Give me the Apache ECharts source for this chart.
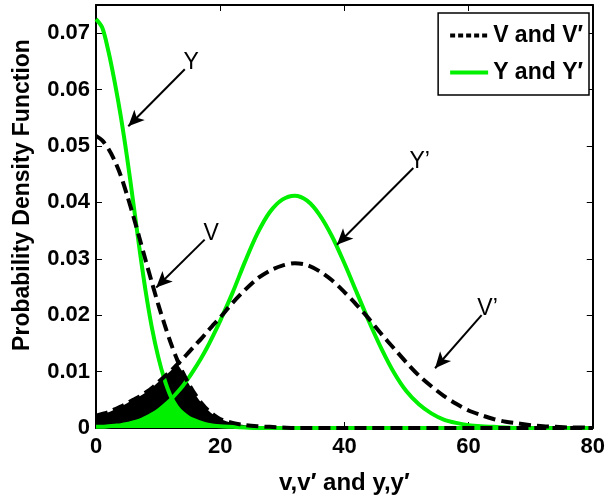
<!DOCTYPE html>
<html>
<head>
<meta charset="utf-8">
<script src="https://cdn.jsdelivr.net/npm/echarts@6/dist/echarts.min.js"></script>
<style>html,body{margin:0;padding:0;background:#fff}#c{width:608px;height:500px}</style>
</head>
<body>
<div id="c"></div>
<script>
// x positions (step 1 up to 20, then step 2)
const xs = [0,1,2,3,4,5,6,7,8,9,10,11,12,13,14,15,16,17,18,19,20,
  22,24,26,28,30,32,34,36,38,40,42,44,46,48,50,52,54,56,58,60,62,64,66,68,70,72,74,76,78,80];
// V (black dashed, left)
const vLeft = [0.0518,0.0510,0.0495,0.0474,0.0447,0.0413,0.0376,0.0337,0.0297,0.0258,0.0220,0.0185,0.0152,0.0123,0.0098,0.0077,0.0059,0.0044,0.0032,0.0023,0.0016,
  0.0009,0.0005,0.0003,0.0002,0.0001,0,0,0,0,0,0,0,0,0,0,0,0,0,0,0,0,0,0,0,0,0,0,0,0,0];
// V' (black dashed, right)
const vRight = [0.0022,0.0025,0.0028,0.0033,0.0038,0.0044,0.0050,0.0056,0.0063,0.0071,0.0081,0.0091,0.0101,0.0112,0.0123,0.0135,0.0147,0.0159,0.0172,0.0184,0.0196,
  0.0222,0.0245,0.0265,0.0279,0.0288,0.0292,0.0289,0.0278,0.0262,0.0241,0.0218,0.0193,0.0166,0.0141,0.0116,0.0093,0.0074,0.0057,0.0043,0.0031,0.0023,0.0016,0.0011,0.0008,0.0005,0.0003,0.0002,0.0001,0.0001,0];
// Y (green, left)
const yLeft = [0.0725,0.0710,0.0668,0.0614,0.0552,0.0480,0.0400,0.0318,0.0242,0.0178,0.0127,0.0087,0.0057,0.0038,0.0026,0.0018,0.0013,0.0009,0.0006,0.0004,0.0003,
  0.0002,0.0001,0,0,0,0,0,0,0,0,0,0,0,0,0,0,0,0,0,0,0,0,0,0,0,0,0,0,0,0];
// Y' (green, right)
const yRight = [0.0002,0.0002,0.0003,0.0004,0.0005,0.0007,0.0010,0.0013,0.0018,0.0024,0.0031,0.0040,0.0050,0.0062,0.0075,0.0090,0.0107,0.0125,0.0145,0.0167,0.0190,
  0.0240,0.0295,0.0345,0.0383,0.0405,0.0412,0.0403,0.0378,0.0340,0.0292,0.0240,0.0188,0.0140,0.0098,0.0065,0.0042,0.0026,0.0015,0.0009,0.0005,0.0003,0.0002,0.0001,0,0,0,0,0,0,0];

const legendNames = ['V and V\u2032', 'Y and Y\u2032'];
const xTitle = 'v,v\u2032 and y,y\u2032';
const yTitle = 'Probability Density Function';

const pairs = arr => xs.map((x, i) => [x, arr[i]]);
const minPairs = (a, b) => xs.map((x, i) => [x, Math.min(a[i], b[i])]);

const GREEN = '#00f000';
const FONT = 'Liberation Sans, Arial, sans-serif';

const chart = echarts.init(document.getElementById('c'), null, {renderer: 'canvas'});

const arrowLabel = {
  show: true, position: 'start', distance: 9, color: '#000',
  fontFamily: FONT, fontSize: 23, fontWeight: 'normal'
};
const arrowLine = {color: '#000', width: 2, type: 'solid'};

function arrow(text, from, to) {
  return [
    {coord: from, symbol: 'none', label: Object.assign({}, arrowLabel, {formatter: text})},
    {coord: to, symbol: 'arrow', symbolSize: [11, 16]}
  ];
}

const axisCommon = {
  type: 'value',
  axisLine: {show: true, onZero: false, lineStyle: {color: '#000', width: 2}},
  axisTick: {show: true, inside: true, length: 6, lineStyle: {color: '#000', width: 1}},
  splitLine: {show: false}
};

chart.setOption({
  animation: false,
  backgroundColor: '#fff',
  grid: {left: 96, right: 12, top: 5, bottom: 72, show: false},
  legend: {
    data: [
      {name: legendNames[0], lineStyle: {type: [5, 3], width: 4, color: '#000'}},
      {name: legendNames[1], lineStyle: {width: 4, color: GREEN}}
    ],
    orient: 'vertical',
    right: 19, top: 13,
    padding: [11, 6, 11, 10],
    itemGap: 14,
    itemWidth: 38, itemHeight: 14,
    borderColor: '#000', borderWidth: 1.5,
    backgroundColor: '#fff',
    itemStyle: {opacity: 0},
    textStyle: {fontFamily: FONT, fontSize: 23, fontWeight: 'bold', color: '#000'}
  },
  xAxis: [
    Object.assign({}, axisCommon, {
      min: 0, max: 80, interval: 20, position: 'bottom',
      name: xTitle, nameLocation: 'middle', nameGap: 43,
      nameTextStyle: {fontFamily: FONT, fontSize: 24, fontWeight: 'bold', color: '#000'},
      axisLabel: {fontFamily: FONT, fontSize: 22, fontWeight: 'bold', color: '#000', margin: 8}
    }),
    Object.assign({}, axisCommon, {
      min: 0, max: 80, interval: 20, position: 'top',
      axisLabel: {show: false}
    })
  ],
  yAxis: [
    Object.assign({}, axisCommon, {
      min: 0, max: 0.075, interval: 0.01, position: 'left',
      axisLabel: {
        fontFamily: FONT, fontSize: 22, fontWeight: 'bold', color: '#000', margin: 6,
        showMaxLabel: false,
        formatter: v => v === 0 ? '0' : v.toFixed(2)
      }
    }),
    Object.assign({}, axisCommon, {
      min: 0, max: 0.075, interval: 0.01, position: 'right',
      axisLabel: {show: false}
    })
  ],
  graphic: [{
    type: 'text',
    x: 23, y: 195,
    rotation: Math.PI / 2,
    style: {text: yTitle, font: 'bold 23px ' + FONT, fill: '#000', align: 'center', verticalAlign: 'middle'}
  }],
  series: [
    {
      name: 'fillV', type: 'line', data: minPairs(vLeft, vRight), smooth: 0.3,
      symbol: 'none', lineStyle: {width: 0}, areaStyle: {color: '#000', opacity: 1}, z: 1, silent: true
    },
    {
      name: 'fillY', type: 'line', data: minPairs(yLeft, yRight), smooth: 0.3,
      symbol: 'none', lineStyle: {width: 0}, areaStyle: {color: GREEN, opacity: 1}, z: 2, silent: true
    },
    {
      name: legendNames[1], type: 'line', data: pairs(yLeft), smooth: 0.3, symbol: 'none',
      color: GREEN, lineStyle: {color: GREEN, width: 4}, z: 3,
      markLine: {
        silent: true, animation: false, lineStyle: arrowLine,
        data: [arrow('Y', [14.3, 0.0636], [5.2, 0.0535])]
      }
    },
    {
      name: legendNames[1], type: 'line', data: pairs(yRight), smooth: 0.3, symbol: 'none',
      color: GREEN, lineStyle: {color: GREEN, width: 4}, z: 3,
      markLine: {
        silent: true, animation: false, lineStyle: arrowLine,
        data: [arrow('Y\u2019', [51.1, 0.0461], [38.8, 0.0325])]
      }
    },
    {
      name: legendNames[0], type: 'line', data: pairs(vLeft), smooth: 0.3, symbol: 'none',
      color: '#000', lineStyle: {color: '#000', width: 4, type: [12, 6]}, z: 4,
      markLine: {
        silent: true, animation: false, lineStyle: arrowLine,
        data: [arrow('V', [17.5, 0.0334], [9.7, 0.0249])]
      }
    },
    {
      name: legendNames[0], type: 'line', data: pairs(vRight), smooth: 0.3, symbol: 'none',
      color: '#000', lineStyle: {color: '#000', width: 4, type: [12, 6]}, z: 4,
      markLine: {
        silent: true, animation: false, lineStyle: arrowLine,
        data: [arrow('V\u2019', [62.1, 0.0200], [54.6, 0.0106])]
      }
    }
  ]
});
</script>
</body>
</html>
